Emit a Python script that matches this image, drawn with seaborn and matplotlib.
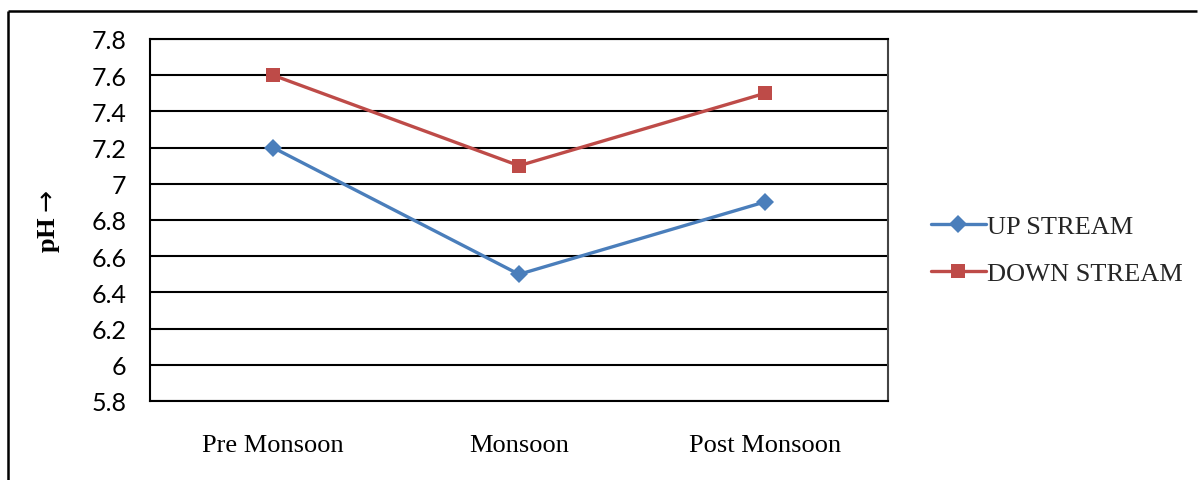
import matplotlib
matplotlib.use("Agg")
import matplotlib.pyplot as plt
from matplotlib.lines import Line2D
import numpy as np
import pandas as pd
import seaborn as sns

# Seasonal pH readings at two sampling stations
seasons = ["Pre Monsoon", "Monsoon", "Post Monsoon"]
up_stream = [7.2, 6.5, 6.9]
down_stream = [7.6, 7.1, 7.5]
series_names = ["UP STREAM", "DOWN STREAM"]
y_ticks = [5.8, 6.0, 6.2, 6.4, 6.6, 6.8, 7.0, 7.2, 7.4, 7.6, 7.8]
y_tick_labels = ["5.8", "6", "6.2", "6.4", "6.6", "6.8", "7", "7.2", "7.4", "7.6", "7.8"]

df = pd.DataFrame({
    "Season": seasons * 2,
    "pH": up_stream + down_stream,
    "Station": [series_names[0]] * 3 + [series_names[1]] * 3,
})

sns.set_theme(style="white")
plt.rcParams["font.family"] = ["Liberation Serif", "DejaVu Serif"]

fig = plt.figure(figsize=(11.98, 4.81), dpi=100)
fig.patch.set_edgecolor("white")
fig.patch.set_linewidth(0)
ax = fig.add_axes([150 / 1198, 1 - 402 / 481, 738 / 1198, 362 / 481])

palette = {"UP STREAM": "#4A7EBB", "DOWN STREAM": "#BE4B48"}
markers = {"UP STREAM": "D", "DOWN STREAM": "s"}
sizes_map = {"UP STREAM": 9.5, "DOWN STREAM": 10.5}

sns.lineplot(data=df, x="Season", y="pH", hue="Station", style="Station",
             markers=markers, dashes=False, palette=palette, linewidth=2.4,
             markersize=10, markeredgewidth=0, sort=False, ax=ax, legend=False)
for line, name in zip(ax.lines, series_names):
    line.set_markersize(sizes_map[name])

ax.set_xlim(-0.5, 2.5)
ax.set_ylim(5.8, 7.8)
ax.set_yticks(y_ticks)
ax.set_yticklabels(y_tick_labels, family="Lato", fontsize=18)
ax.grid(axis="y", color="black", linewidth=1.5)
ax.grid(axis="x", visible=False)
ax.set_axisbelow(True)
for side in ["left", "bottom", "right", "top"]:
    ax.spines[side].set_visible(True)
    ax.spines[side].set_color("black")
    ax.spines[side].set_linewidth(1.5)
ax.spines["right"].set_color("#444444")

ax.tick_params(axis="y", length=0, pad=17, colors="black")
ax.tick_params(axis="x", length=0, pad=24, labelsize=19, colors="black")
ax.set_xlabel("")
ax.set_ylabel(r"pH$\rightarrow$", fontsize=19, fontweight="bold", color="black")
ax.yaxis.set_label_coords(-0.119, 0.5)

handles = [Line2D([], [], color=palette[n], marker=markers[n], markersize=sizes_map[n],
                  markeredgewidth=0, linewidth=2.4) for n in series_names]
fig.legend(handles, series_names, loc="center left", bbox_to_anchor=(0.757, 0.478),
           frameon=False, fontsize=19, handlelength=2.1, handletextpad=0.05,
           labelspacing=0.9)

# Page frame drawn along the top and left edges
fig.add_artist(Line2D([8 / 1198, 0.999], [1 - 12 / 481, 1 - 12 / 481],
                      transform=fig.transFigure, color="black", linewidth=1.8,
                      solid_capstyle="butt"))
fig.add_artist(Line2D([8 / 1198, 8 / 1198], [0.0, 1 - 12 / 481],
                      transform=fig.transFigure, color="black", linewidth=1.8,
                      solid_capstyle="butt"))

fig.savefig("out.png", dpi=100, facecolor="white")
